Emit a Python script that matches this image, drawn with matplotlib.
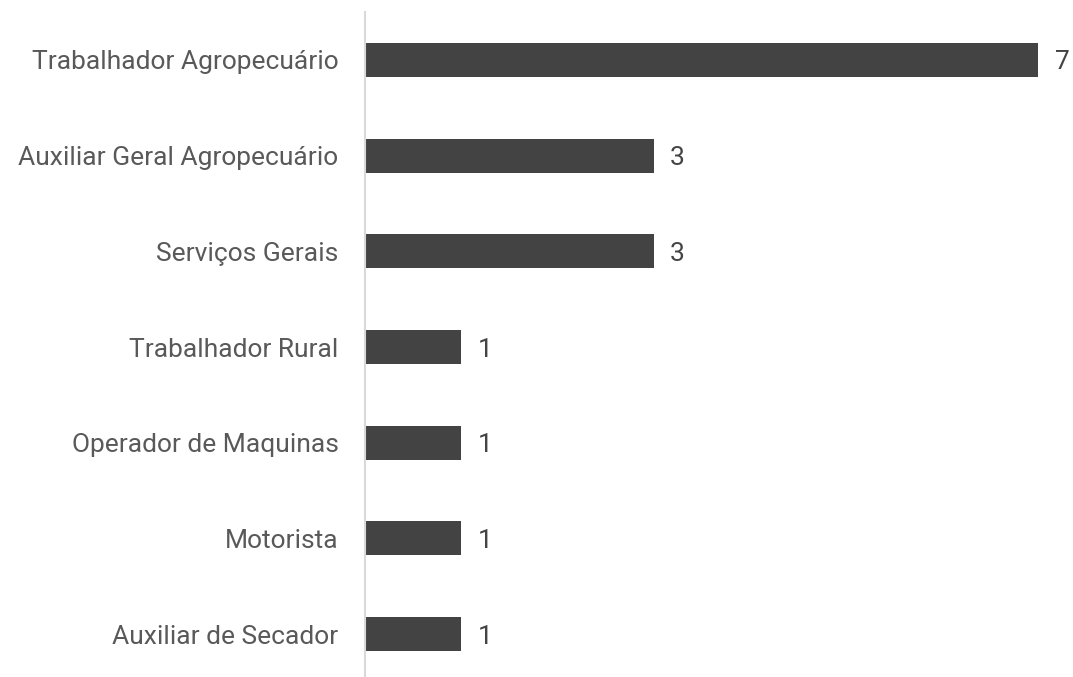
import matplotlib
matplotlib.use("Agg")
import matplotlib.pyplot as plt

categories = ["Trabalhador Agropecuário", "Auxiliar Geral Agropecuário", "Serviços Gerais",
              "Trabalhador Rural", "Operador de Maquinas", "Motorista", "Auxiliar de Secador"]
values = [7, 3, 3, 1, 1, 1, 1]

plt.rcParams['font.family'] = ['Roboto', 'DejaVu Sans']

W, H = 1073, 677
fig = plt.figure(figsize=(W/100, H/100), dpi=100)
ax = fig.add_axes([365/W, 0, (W-365)/W, (677-12)/H])

y = list(range(len(categories)))
ax.barh(y, values, height=0.355, color="#434343")
ax.set_ylim(6.447, -0.5)
ax.set_xlim(0, (W-365)/96.2)

ax.set_yticks(y)
ax.set_yticklabels(categories, fontsize=19, color="#595959")
ax.tick_params(axis='y', length=0, pad=19)
ax.set_xticks([])
for s in ["top", "right", "bottom"]:
    ax.spines[s].set_visible(False)
ax.spines["left"].set_color("#d9d9d9")
ax.spines["left"].set_linewidth(1.5)

for yi, v in zip(y, values):
    ax.text(v + 0.17, yi, str(v), va="center_baseline", ha="left", fontsize=19, color="#444444")

fig.savefig("out.png", dpi=100)
